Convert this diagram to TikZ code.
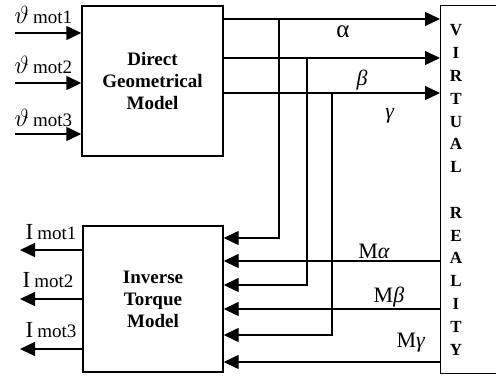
\documentclass[tikz,border=0pt]{standalone}
\usepackage{fontspec}
\setmainfont{Liberation Serif}
\usetikzlibrary{arrows.meta}
\begin{document}
\begin{tikzpicture}[x=1pt,y=-1pt, line width=1.4pt,
 arr/.style={-{Triangle[length=15pt,width=14pt]}},
 blk/.style={draw, rectangle, inner sep=0pt, font=\bfseries\fontsize{19}{22}\selectfont, align=center},
 lbl/.style={inner sep=0pt, font=\fontsize{22}{22}\selectfont},
 inl/.style={inner sep=0pt, anchor=west},
]
\useasboundingbox (0,0) rectangle (496,379);
\clip (0,0) rectangle (496,379);
% blocks
\node[blk, minimum width=141pt, minimum height=150pt] (dgm) at (152.5,81) {Direct\\Geometrical\\Model};
\node[blk, minimum width=140pt, minimum height=146pt] (itm) at (153,299) {Inverse\\Torque\\Model};
\node[draw, rectangle, inner sep=0pt, minimum width=70pt, minimum height=368pt, anchor=north west] (vr) at (440,5) {};
\node[inner sep=0pt, align=center, font=\bfseries\fontsize{17}{22.8}\selectfont] (vrtext) at (456,190)
 {V\\I\\R\\T\\U\\A\\L\\[22.8pt]R\\E\\A\\L\\I\\T\\Y};
% inputs
\coordinate (i1) at (15,33);
\coordinate (i2) at (15,83);
\coordinate (i3) at (15,134);
\draw[arr] (i1) -- (i1 -| dgm.west);
\draw[arr] (i2) -- (i2 -| dgm.west);
\draw[arr] (i3) -- (i3 -| dgm.west);
\node[inl] (l1) at (14,15) {{\fontsize{23}{23}\selectfont$\vartheta$}\hspace{4pt}{\fontsize{19}{19}\selectfont mot1}};
\node[inl] (l2) at (14,65) {{\fontsize{23}{23}\selectfont$\vartheta$}\hspace{4pt}{\fontsize{19}{19}\selectfont mot2}};
\node[inl] (l3) at (14,118) {{\fontsize{23}{23}\selectfont$\vartheta$}\hspace{4pt}{\fontsize{19}{19}\selectfont mot3}};
% outputs of DGM
\coordinate (ya) at (0,19);
\coordinate (yb) at (0,58);
\coordinate (yc) at (0,93);
\draw[arr] (dgm.east |- ya) -- (vr.west |- ya);
\draw[arr] (dgm.east |- yb) -- (vr.west |- yb);
\draw[arr] (dgm.east |- yc) -- (vr.west |- yc);
\node[lbl, font=\fontsize{25}{25}\selectfont] (la) at (343,32) {α};
\node[lbl] (lb) at (362,80) {\textit{β}};
\node[lbl] (lc) at (390,116) {\textit{γ}};
% branches down to ITM
\coordinate (ba) at (279,19);
\coordinate (bb) at (307,58);
\coordinate (bc) at (332,93);
\coordinate (t1) at (0,238);
\coordinate (t2) at (0,261);
\coordinate (t3) at (0,285);
\coordinate (t4) at (0,309);
\coordinate (t5) at (0,335);
\coordinate (t6) at (0,362);
\draw[arr] (ba) |- (itm.east |- t1);
\draw[arr] (bb) |- (itm.east |- t3);
\draw[arr] (bc) |- (itm.east |- t5);
\draw[arr] (vr.west |- t2) -- (itm.east |- t2);
\draw[arr] (vr.west |- t4) -- (itm.east |- t4);
\draw[arr] (vr.west |- t6) -- (itm.east |- t6);
\node[lbl] (ma) at (374,251) {M\textit{α}};
\node[lbl] (mb) at (389,297) {M\textit{β}};
\node[lbl] (mc) at (411,343) {M\textit{γ}};
% outputs of ITM
\coordinate (o1) at (20,250);
\coordinate (o2) at (20,299);
\coordinate (o3) at (20,349);
\draw[arr] (o1 -| itm.west) -- (o1);
\draw[arr] (o2 -| itm.west) -- (o2);
\draw[arr] (o3 -| itm.west) -- (o3);
\node[inl] (m1) at (25,232) {{\fontsize{23}{23}\selectfont I}\hspace{4pt}{\fontsize{19}{19}\selectfont mot1}};
\node[inl] (m2) at (22,280) {{\fontsize{23}{23}\selectfont I}\hspace{4pt}{\fontsize{19}{19}\selectfont mot2}};
\node[inl] (m3) at (25,330) {{\fontsize{23}{23}\selectfont I}\hspace{4pt}{\fontsize{19}{19}\selectfont mot3}};
\end{tikzpicture}
\end{document}
